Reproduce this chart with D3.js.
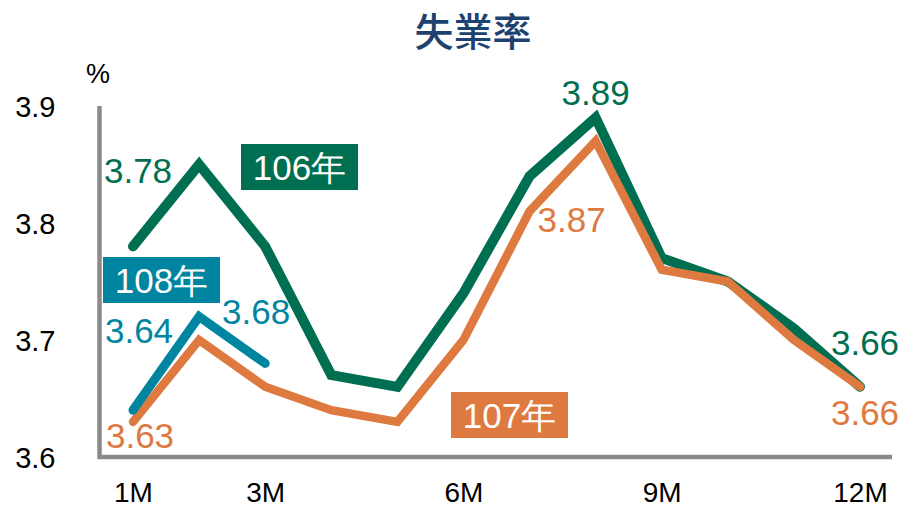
<!DOCTYPE html>
<html>
<head>
<meta charset="utf-8">
<script src="https://cdn.jsdelivr.net/npm/d3@7"></script>
<style>
  body { margin: 0; background: #fff; }
  svg text { font-family: "Liberation Sans", Arial, sans-serif; }
</style>
</head>
<body>
<svg id="chart" width="907" height="507"></svg>
<script>
// data
const months = [1, 2, 3, 4, 5, 6, 7, 8, 9, 10, 11, 12];
const tickMonths = [1, 3, 6, 9, 12];
const yTicks = [3.6, 3.7, 3.8, 3.9];
const y106 = [3.78, 3.85, 3.78, 3.67, 3.66, 3.74, 3.84, 3.89, 3.77, 3.75, 3.71, 3.66];
const y107 = [3.63, 3.70, 3.66, 3.64, 3.63, 3.70, 3.81, 3.87, 3.76, 3.75, 3.70, 3.66];
const y108 = [3.64, 3.72, 3.68];
const seriesNames = ['106年', '107年', '108年'];

const GREEN = '#006f51', ORANGE = '#de7a3f', TEAL = '#0085a1';

const svg = d3.select('#chart');

let x = d3.scaleLinear().domain([1, 12]).range([133, 860]);
let y = d3.scaleLinear().domain([3.6, 3.9]).range([457, 106]);

// title
svg.append('text')
    .attr('x', 473).attr('y', 46)
    .attr('text-anchor', 'middle')
    .style('font-family', '"Noto Sans CJK TC", "Noto Sans CJK SC", sans-serif')
    .style('font-size', '39px')
    .style('font-weight', 500)
    .style('fill', '#1d426f')
    .text('失業率');

// unit
svg.append('text')
    .attr('x', 98).attr('y', 83)
    .attr('text-anchor', 'middle')
    .style('font-size', '27px')
    .text('%');

// y axis
let yAxis = svg.append('g')
    .attr('transform', 'translate(99.5,0)')
    .call(d3.axisLeft(y).tickValues(yTicks).tickFormat(d3.format('.1f')).tickSize(0).tickPadding(44));
yAxis.select('.domain').remove();
yAxis.selectAll('text').style('font-size', '29px').style('fill', '#000').attr('dy', '0.35em');

// x axis
let xAxis = svg.append('g')
    .attr('transform', 'translate(0,457)')
    .call(d3.axisBottom(x).tickValues(tickMonths).tickFormat(d => d + 'M').tickSize(0).tickPadding(25));
xAxis.select('.domain').remove();
xAxis.selectAll('text').style('font-size', '28px').style('fill', '#000');

// axis lines (L shape)
svg.append('path')
    .attr('d', `M99.5,${y(3.9)} L99.5,457 L892,457`)
    .attr('fill', 'none')
    .attr('stroke', '#8a8a8a')
    .attr('stroke-width', 4.5);

let line = d3.line()
    .x((d, i) => x(months[i]))
    .y(d => y(d));

[[y106, GREEN, 10], [y107, ORANGE, 8.5], [y108, TEAL, 9]].forEach(function (s) {
    svg.append('path')
        .datum(s[0])
        .attr('d', line)
        .attr('fill', 'none')
        .attr('stroke', s[1])
        .attr('stroke-width', s[2])
        .attr('stroke-linecap', 'round')
        .attr('stroke-linejoin', 'miter');
});

// value labels: [series, index, color, dx, dy]
let labels = [
    [y106, 0, GREEN, 5, -63],
    [y106, 7, GREEN, 0, -13],
    [y106, 11, GREEN, 5, -32],
    [y107, 0, ORANGE, 7, 26],
    [y107, 7, ORANGE, -24, 91],
    [y107, 11, ORANGE, 5, 38],
    [y108, 0, TEAL, 6, -67],
    [y108, 2, TEAL, -9, -39]
];
svg.selectAll('.vlabel')
    .data(labels)
    .enter().append('text')
    .attr('class', 'vlabel')
    .attr('x', d => x(months[d[1]]) + d[3])
    .attr('y', d => y(d[0][d[1]]) + d[4])
    .attr('text-anchor', 'middle')
    .style('font-size', '35px')
    .style('fill', d => d[2])
    .text(d => d[0][d[1]].toFixed(2));

// series name boxes
let boxes = [
    [seriesNames[0], GREEN, 241, 144],
    [seriesNames[1], ORANGE, 451, 392],
    [seriesNames[2], TEAL, 103, 257]
];
boxes.forEach(function (b) {
    let g = svg.append('g').attr('transform', `translate(${b[2]},${b[3]})`);
    g.append('rect').attr('width', 117).attr('height', 46).attr('fill', b[1]);
    g.append('text')
        .attr('x', 58.5).attr('y', 36)
        .attr('text-anchor', 'middle')
        .style('font-size', '35px')
        .style('fill', '#fff')
        .text(b[0]);
});
</script>
</body>
</html>
